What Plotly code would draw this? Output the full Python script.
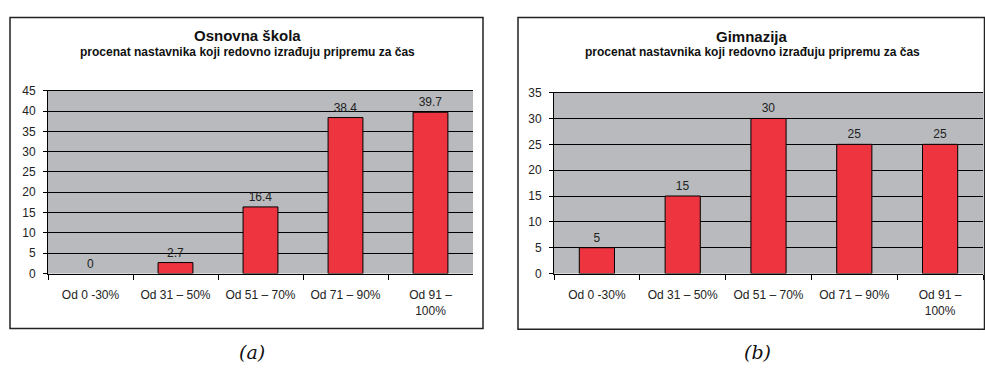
import plotly.graph_objects as go

categories = ["Od 0 -30%", "Od 31 – 50%", "Od 51 – 70%", "Od 71 – 90%", "Od 91 –<br>100%"]
osnovna_values = [0, 2.7, 16.4, 38.4, 39.7]
gimnazija_values = [5, 15, 30, 25, 25]
osnovna_title = "Osnovna škola"
gimnazija_title = "Gimnazija"
subtitle = "procenat nastavnika koji redovno izrađuju pripremu za čas"

W, H = 985, 371
BAR = "#EE343F"
BG = "#B8BABD"
FONT = "Liberation Sans, Arial, sans-serif"

def px(x):
    return x / W

def py(y):
    return 1 - y / H

def outline(vals):
    return [1 if v > 0 else 0 for v in vals]

fig = go.Figure()
fig.add_trace(go.Bar(x=categories, y=osnovna_values, text=[str(v) for v in osnovna_values],
                     textposition="outside", cliponaxis=False,
                     marker=dict(color=BAR, line=dict(color="black", width=outline(osnovna_values))),
                     textfont=dict(size=12, color="#222"), width=0.41, xaxis="x", yaxis="y", showlegend=False))
fig.add_trace(go.Bar(x=categories, y=gimnazija_values, text=[str(v) for v in gimnazija_values],
                     textposition="outside", cliponaxis=False,
                     marker=dict(color=BAR, line=dict(color="black", width=outline(gimnazija_values))),
                     textfont=dict(size=12, color="#222"), width=0.41, xaxis="x2", yaxis="y2", showlegend=False))

xcommon = dict(type="category", showgrid=False, ticks="outside", tickson="boundaries", ticklen=5,
               tickcolor="black", showline=True, linecolor="black", linewidth=1, mirror=True,
               ticklabelstandoff=10,
               tickfont=dict(size=12, color="#222", family=FONT), fixedrange=True)
ycommon = dict(showgrid=True, gridcolor="black", gridwidth=1, ticks="outside", ticklen=4, tickcolor="black",
               showline=True, linecolor="black", linewidth=1, zeroline=False, ticklabelstandoff=5,
               tickfont=dict(size=12, color="#222", family=FONT), fixedrange=True)

def ann(text, x, y, size, family=FONT):
    return dict(text=text, x=px(x), y=py(y), xref="paper", yref="paper", xanchor="center", yanchor="middle",
                showarrow=False, font=dict(size=size, color="#111", family=family))

SERIF = "DejaVu Serif, Liberation Serif, serif"

fig.update_layout(
    width=W, height=H, margin=dict(l=0, r=0, t=0, b=0),
    paper_bgcolor="white", plot_bgcolor=BG, bargap=0.59,
    font=dict(family=FONT, color="#222"),
    xaxis=dict(domain=[px(48), px(473)], anchor="y", **xcommon),
    yaxis=dict(domain=[py(277), py(87)], anchor="x", range=[0, 45], dtick=5, **ycommon),
    xaxis2=dict(domain=[px(554), px(983)], anchor="y2", **xcommon),
    yaxis2=dict(domain=[py(277), py(89)], anchor="x2", range=[0, 35], dtick=5, **ycommon),
    shapes=[
        dict(type="rect", xref="paper", yref="paper", x0=px(10), x1=px(483), y0=py(334), y1=py(11),
             line=dict(color="#222", width=1.5)),
        dict(type="rect", xref="paper", yref="paper", x0=px(518), x1=px(984.5), y0=py(335), y1=py(11),
             line=dict(color="#222", width=1.5)),
    ],
    annotations=[
        ann("<b>" + osnovna_title + "</b>", 247, 30, 15),
        ann("<b>" + subtitle + "</b>", 247, 47, 12),
        ann("<b>" + gimnazija_title + "</b>", 752, 31, 15),
        ann("<b>" + subtitle + "</b>", 752, 47, 12),
        ann("<i>(a)</i>", 252, 359, 19, SERIF),
        ann("<i>(b)</i>", 757, 359, 19, SERIF),
    ],
)

fig.write_html("out.html")
